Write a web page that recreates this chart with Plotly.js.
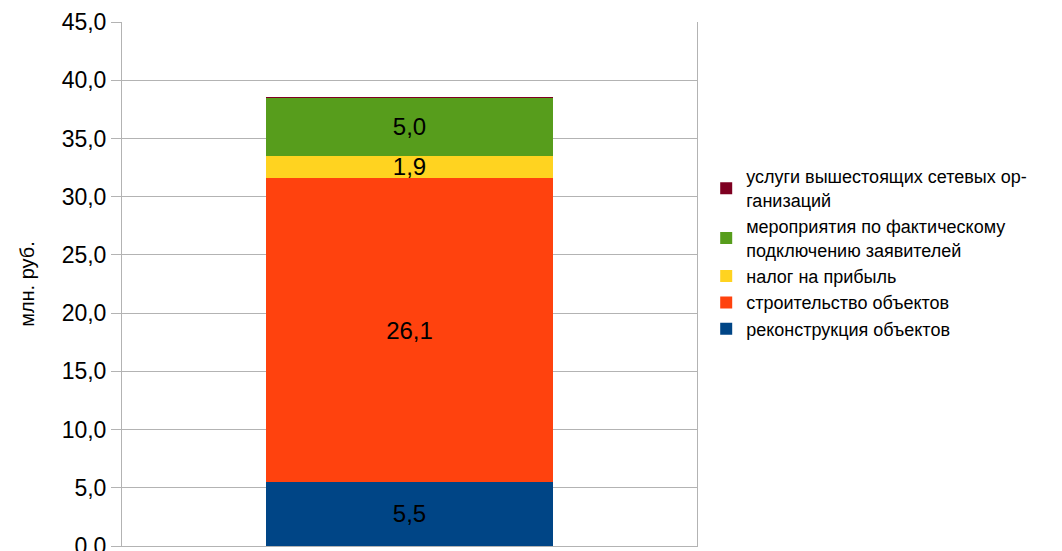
<!DOCTYPE html>
<html>
<head>
<meta charset="utf-8">
<script src="https://cdn.plot.ly/plotly-3.0.1.min.js"></script>
<style>html,body{margin:0;padding:0;background:#fff;}#chart{width:1062px;height:551px;}</style>
</head>
<body>
<div id="chart"></div>
<script>
const categories = [""];
const seriesNames = [
  "реконструкция объектов",
  "строительство объектов",
  "налог на прибыль",
  "мероприятия по фактическому<br>подключению заявителей",
  "услуги вышестоящих сетевых ор-<br>ганизаций"
];
const reconstruction = [5.5];
const construction = [26.1];
const profitTax = [1.9];
const connection = [5.0];
const upstreamServices = [0.1];
const seriesValues = [reconstruction, construction, profitTax, connection, upstreamServices];
const seriesColors = ["#004586", "#ff420e", "#ffd320", "#579d1c", "#7e0021"];
const showLabel = [true, true, true, true, false];
const yTickValues = [0, 5, 10, 15, 20, 25, 30, 35, 40, 45];

const traces = seriesValues.map((vals, i) => ({
  type: "bar",
  name: seriesNames[i],
  x: categories,
  y: vals,
  marker: {color: seriesColors[i], line: {width: 0}},
  texttemplate: showLabel[i] ? "%{y:.1f}" : "",
  textposition: showLabel[i] ? "inside" : "none",
  insidetextanchor: "middle",
  textangle: 0,
  constraintext: "none",
  insidetextfont: {family: "Liberation Sans, Arial, sans-serif", size: 24, color: "#000"},
  hoverinfo: "skip"
}));

const layout = {
  width: 1062,
  height: 551,
  margin: {l: 122, r: 365, t: 22, b: 5},
  paper_bgcolor: "#fff",
  plot_bgcolor: "#fff",
  separators: ", ",
  barmode: "stack",
  bargap: 0.5,
  font: {family: "Liberation Sans, Arial, sans-serif", color: "#000"},
  showlegend: true,
  legend: {
    traceorder: "reversed",
    x: 1.016,
    xanchor: "left",
    y: 0.74,
    yanchor: "top",
    font: {size: 18, color: "#000"},
    tracegroupgap: 0,
    itemwidth: 30,
    bgcolor: "rgba(0,0,0,0)"
  },
  xaxis: {
    type: "category",
    showticklabels: false,
    showgrid: false,
    showline: true,
    linecolor: "#b3b3b3",
    linewidth: 1,
    zeroline: false,
    ticks: ""
  },
  yaxis: {
    range: [0, 45],
    tickvals: yTickValues,
    tickformat: ".1f",
    ticks: "outside",
    ticklen: 10,
    tickcolor: "#b3b3b3",
    tickfont: {size: 23, color: "#000"},
    ticklabeloverflow: "allow",
    showgrid: true,
    gridcolor: "#b3b3b3",
    gridwidth: 1,
    showline: true,
    mirror: true,
    linecolor: "#b3b3b3",
    linewidth: 1,
    zeroline: false,
    title: {text: "млн. руб.", font: {size: 20, color: "#000"}, standoff: 21}
  }
};

Plotly.newPlot("chart", traces, layout, {displayModeBar: false, staticPlot: true});
</script>
</body>
</html>
